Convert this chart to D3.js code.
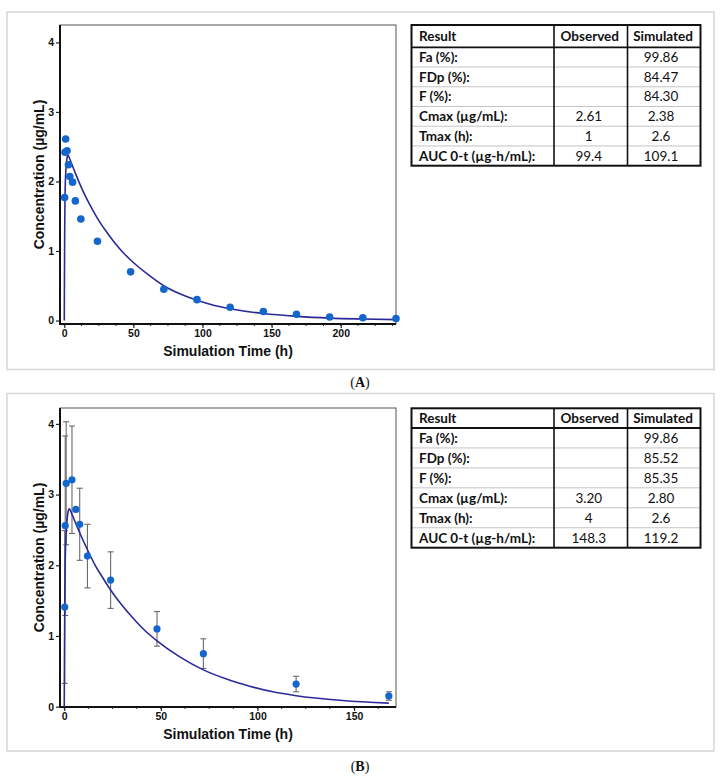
<!DOCTYPE html>
<html>
<head>
<meta charset="utf-8">
<script src="https://cdn.jsdelivr.net/npm/d3@7"></script>
<style>
  html, body { margin: 0; padding: 0; background: #ffffff; }
  svg { display: block; }
</style>
</head>
<body>
<svg id="chart" width="721" height="780"></svg>
<script>
// ---------------- DATA ----------------
// Panel A – observed
const obsTimeA = [0.25, 0.5, 1, 2, 3, 4, 6, 8, 12, 24, 48, 72, 96, 120, 144, 168, 192, 216, 240];
const obsConcA = [1.77, 2.42, 2.61, 2.44, 2.24, 2.07, 1.99, 1.72, 1.46, 1.14, 0.70, 0.45, 0.30, 0.19, 0.13, 0.09, 0.05, 0.04, 0.03];
// Panel A – simulated
const simTimeA = [0, 0.1, 0.3, 0.5, 1, 1.5, 2, 2.6, 4, 6, 8, 12, 16, 20, 24, 30, 36, 42, 48, 60, 72, 84, 96, 108, 120, 144, 168, 192, 216, 240];
const simConcA = [0, 0.5, 1.3, 1.75, 2.1, 2.25, 2.34, 2.38, 2.32, 2.22, 2.12, 1.93, 1.76, 1.61, 1.47, 1.29, 1.13, 0.99, 0.87, 0.67, 0.50, 0.38, 0.29, 0.22, 0.17, 0.10, 0.06, 0.035, 0.022, 0.013];

// Panel B – observed (mean ± SD)
const obsTimeB = [0.25, 0.5, 1, 4, 6, 8, 12, 24, 48, 72, 120, 168];
const obsConcB = [1.41, 2.56, 3.16, 3.21, 2.79, 2.58, 2.13, 1.79, 1.10, 0.75, 0.32, 0.15];
const obsSdB   = [1.08, 1.27, 0.87, 0.76, 0.00, 0.51, 0.45, 0.40, 0.245, 0.21, 0.11, 0.06];
// Panel B – simulated
const simTimeB = [0, 0.1, 0.3, 0.5, 1, 1.5, 2, 2.6, 4, 6, 8, 12, 16, 20, 24, 30, 36, 42, 48, 60, 72, 84, 96, 108, 120, 144, 168];
const simConcB = [0, 0.6, 1.6, 2.05, 2.45, 2.65, 2.76, 2.80, 2.72, 2.59, 2.46, 2.22, 2.00, 1.82, 1.65, 1.43, 1.24, 1.07, 0.93, 0.70, 0.52, 0.39, 0.29, 0.21, 0.155, 0.088, 0.05];

// Axis ticks
const yTicks = [0, 1, 2, 3, 4];
const xTicksA = [0, 50, 100, 150, 200];
const xTicksB = [0, 50, 100, 150];
const xMinorA = d3.range(0, 241, 12.5);
const xMinorB = d3.range(0, 171, 12.5);
const xTitle = "Simulation Time (h)";
const yTitle = "Concentration (µg/mL)";

// Tables
const tableHeader = ["Result", "Observed", "Simulated"];
const rowLabels = ["Fa (%):", "FDp (%):", "F (%):", "Cmax (µg/mL):", "Tmax (h):", "AUC 0-t (µg-h/mL):"];
const observedA = ["", "", "", "2.61", "1", "99.4"];
const simulatedA = ["99.86", "84.47", "84.30", "2.38", "2.6", "109.1"];
const observedB = ["", "", "", "3.20", "4", "148.3"];
const simulatedB = ["99.86", "85.52", "85.35", "2.80", "2.6", "119.2"];

// ---------------- DRAWING ----------------
const svg = d3.select("#chart");
const LINE = "#2b2b98";
const DOT = "#1466cc";
const AXISFONT = "'Liberation Sans', Arial, sans-serif";
const TABLEFONT = "Lato, 'Open Sans', sans-serif";

function panelBox(top, bottom) {
  svg.append("rect").attr("x", 7).attr("y", top).attr("width", 707).attr("height", bottom - top)
    .attr("fill", "none").attr("stroke", "#d6d6d6").attr("stroke-width", 1.5);
}

function drawChart(cfg) {
  const g = svg.append("g");
  const x = d3.scaleLinear().domain(cfg.xDomain).range([60, 396]);
  const y = d3.scaleLinear().domain(cfg.yDomain).range([cfg.bottom, cfg.top]);

  // frame
  g.append("rect").attr("x", 60).attr("y", cfg.top).attr("width", 336).attr("height", cfg.bottom - cfg.top)
    .attr("fill", "none").attr("stroke", "#555").attr("stroke-width", 1);

  // minor x ticks
  g.selectAll(".minor").data(cfg.xMinor).join("line")
    .attr("x1", d => x(d)).attr("x2", d => x(d))
    .attr("y1", cfg.bottom).attr("y2", cfg.bottom + 2)
    .attr("stroke", "#333").attr("stroke-width", 1);

  // axes
  const xAxis = g.append("g").attr("transform", `translate(0,${cfg.bottom})`)
    .call(d3.axisBottom(x).tickValues(cfg.xTicks).tickFormat(d3.format("d")).tickSize(4).tickPadding(2));
  const yAxis = g.append("g").attr("transform", `translate(60,0)`)
    .call(d3.axisLeft(y).tickValues(yTicks).tickFormat(d3.format("d")).tickSize(4).tickPadding(2));
  [xAxis, yAxis].forEach(a => {
    a.select(".domain").remove();
    a.selectAll("line").attr("stroke", "#222").attr("stroke-width", 1.2);
    a.selectAll("text").attr("font-family", AXISFONT).attr("font-weight", "bold")
      .attr("font-size", 10.5).attr("fill", "#111");
  });
  // thick axis lines
  g.append("line").attr("x1", 60).attr("x2", 60).attr("y1", cfg.top).attr("y2", cfg.bottom)
    .attr("stroke", "#111").attr("stroke-width", 2);
  g.append("line").attr("x1", 59).attr("x2", 396).attr("y1", cfg.bottom).attr("y2", cfg.bottom)
    .attr("stroke", "#111").attr("stroke-width", 2);

  // titles
  g.append("text").attr("x", 228).attr("y", cfg.bottom + 32)
    .attr("text-anchor", "middle").attr("font-family", AXISFONT).attr("font-weight", "bold")
    .attr("font-size", 14).attr("fill", "#111").text(xTitle);
  const cy = (cfg.top + cfg.bottom) / 2;
  g.append("text").attr("transform", `translate(44,${cy}) rotate(-90)`)
    .attr("text-anchor", "middle").attr("font-family", AXISFONT).attr("font-weight", "bold")
    .attr("font-size", 14).attr("fill", "#111").text(yTitle);

  // error bars
  if (cfg.sd) {
    const eb = g.append("g").attr("stroke", "#6a6a6a").attr("stroke-width", 1.1);
    cfg.obsT.forEach((t, i) => {
      const sd = cfg.sd[i];
      if (!sd) return;
      const xp = x(t), y1 = y(cfg.obsC[i] - sd), y2 = y(cfg.obsC[i] + sd);
      eb.append("line").attr("x1", xp).attr("x2", xp).attr("y1", y1).attr("y2", y2);
      eb.append("line").attr("x1", xp - 3).attr("x2", xp + 3).attr("y1", y1).attr("y2", y1);
      eb.append("line").attr("x1", xp - 3).attr("x2", xp + 3).attr("y1", y2).attr("y2", y2);
    });
  }

  // simulated line
  const line = d3.line().x(d => x(d[0])).y(d => y(d[1])).curve(d3.curveMonotoneX);
  g.append("path").datum(cfg.simT.map((t, i) => [t, cfg.simC[i]]))
    .attr("d", line).attr("fill", "none").attr("stroke", LINE).attr("stroke-width", 1.6);

  // observed dots
  g.selectAll(".dot").data(cfg.obsT.map((t, i) => [t, cfg.obsC[i]])).join("circle")
    .attr("cx", d => x(d[0])).attr("cy", d => y(d[1])).attr("r", cfg.r)
    .attr("fill", DOT);
}

function drawTable(cfg) {
  const g = svg.append("g");
  const cols = [411.5, 554, 627.5, 700.5];
  const rowsY = [cfg.top, cfg.headBottom];
  const rh = (cfg.bottom - cfg.headBottom) / rowLabels.length;
  for (let i = 1; i <= rowLabels.length; i++) rowsY.push(cfg.headBottom + rh * i);

  // thin row lines
  rowsY.slice(2, -1).forEach(yy => {
    g.append("line").attr("x1", cols[0]).attr("x2", cols[3]).attr("y1", yy).attr("y2", yy)
      .attr("stroke", "#b5b5b5").attr("stroke-width", 0.8);
  });
  // column separators
  [cols[1], cols[2]].forEach(xx => {
    g.append("line").attr("x1", xx).attr("x2", xx).attr("y1", cfg.top).attr("y2", cfg.bottom)
      .attr("stroke", "#111").attr("stroke-width", 1.6);
  });
  // header bottom line
  g.append("line").attr("x1", cols[0]).attr("x2", cols[3]).attr("y1", cfg.headBottom).attr("y2", cfg.headBottom)
    .attr("stroke", "#111").attr("stroke-width", 1.8);
  // outer border
  g.append("rect").attr("x", cols[0]).attr("y", cfg.top).attr("width", cols[3] - cols[0])
    .attr("height", cfg.bottom - cfg.top).attr("fill", "none").attr("stroke", "#111").attr("stroke-width", 2);

  const fs = 13.5;
  const hb = (cfg.top + cfg.headBottom) / 2 + 4.8;
  g.append("text").attr("x", 419).attr("y", hb).attr("font-family", TABLEFONT).attr("font-weight", "bold")
    .attr("font-size", fs).attr("fill", "#111").text(tableHeader[0]);
  g.append("text").attr("x", (cols[1] + cols[2]) / 2 - 1).attr("y", hb).attr("text-anchor", "middle")
    .attr("font-family", TABLEFONT).attr("font-weight", "bold").attr("font-size", fs).attr("fill", "#111").text(tableHeader[1]);
  g.append("text").attr("x", (cols[2] + cols[3]) / 2 - 1).attr("y", hb).attr("text-anchor", "middle")
    .attr("font-family", TABLEFONT).attr("font-weight", "bold").attr("font-size", fs).attr("fill", "#111").text(tableHeader[2]);

  rowLabels.forEach((lab, i) => {
    const by = rowsY[i + 1] + rh / 2 + 4.8;
    g.append("text").attr("x", 419).attr("y", by).attr("font-family", TABLEFONT).attr("font-weight", "bold")
      .attr("font-size", fs).attr("fill", "#111").text(lab);
    g.append("text").attr("x", (cols[1] + cols[2]) / 2 - 2).attr("y", by).attr("text-anchor", "middle")
      .attr("font-family", TABLEFONT).attr("font-size", fs).attr("fill", "#111").text(cfg.obs[i]);
    g.append("text").attr("x", (cols[2] + cols[3]) / 2 - 3).attr("y", by).attr("text-anchor", "middle")
      .attr("font-family", TABLEFONT).attr("font-size", fs).attr("fill", "#111").text(cfg.sim[i]);
  });
}

function panelLabel(letter, yBase) {
  const t = svg.append("text").attr("x", 360).attr("y", yBase).attr("text-anchor", "middle")
    .attr("font-family", "'Liberation Serif', 'DejaVu Serif', serif").attr("font-size", 14).attr("fill", "#111");
  t.append("tspan").text("(");
  t.append("tspan").attr("font-weight", "bold").text(letter);
  t.append("tspan").text(")");
}

// Panel A
panelBox(12, 369.5);
drawChart({
  top: 25, bottom: 324, xDomain: [-3.1, 240], yDomain: [-0.05, 4.25],
  xTicks: xTicksA, xMinor: xMinorA,
  obsT: obsTimeA, obsC: obsConcA, simT: simTimeA, simC: simConcA, r: 3.8
});
drawTable({ top: 25, headBottom: 47.3, bottom: 165.7, obs: observedA, sim: simulatedA });
panelLabel("A", 387);

// Panel B
panelBox(393.5, 751);
drawChart({
  top: 408, bottom: 707, xDomain: [-2.2, 171.7], yDomain: [-0.005, 4.225],
  xTicks: xTicksB, xMinor: xMinorB,
  obsT: obsTimeB, obsC: obsConcB, sd: obsSdB, simT: simTimeB, simC: simConcB, r: 3.6
});
drawTable({ top: 408.3, headBottom: 428, bottom: 547.7, obs: observedB, sim: simulatedB });
panelLabel("B", 771);
</script>
</body>
</html>
